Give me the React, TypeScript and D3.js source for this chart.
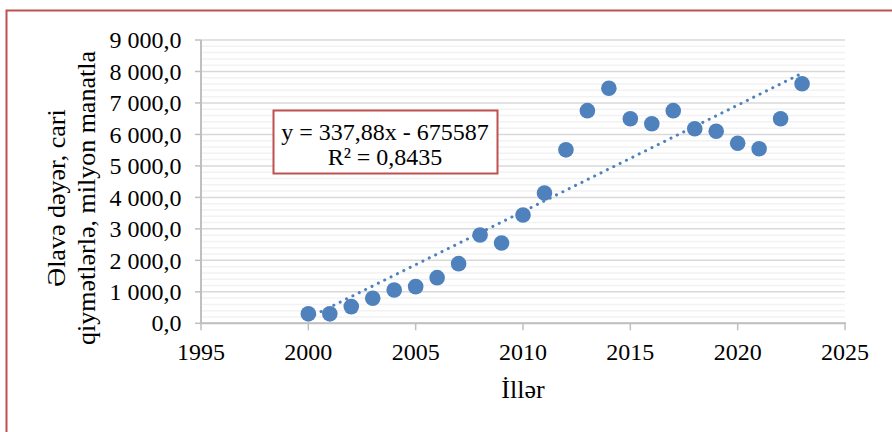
import React, { useEffect } from "react";
import * as d3 from "d3";

const years = [2000, 2001, 2002, 2003, 2004, 2005, 2006, 2007, 2008, 2009, 2010, 2011, 2012, 2013, 2014, 2015, 2016, 2017, 2018, 2019, 2020, 2021, 2022, 2023];
const values = [300, 300, 530, 795, 1060, 1165, 1450, 1895, 2805, 2550, 3440, 4140, 5510, 6755, 7465, 6500, 6340, 6755, 6180, 6100, 5720, 5545, 6500, 7610];
const yTicks = [0, 1000, 2000, 3000, 4000, 5000, 6000, 7000, 8000, 9000];
const xTicks = [1995, 2000, 2005, 2010, 2015, 2020, 2025];
const trendSlope = 337.88;
const trendIntercept = -675587;
const equationLines = ["y = 337,88x - 675587", "R² = 0,8435"];
const yTitleLines = ["Əlavə dəyər, cari", "qiymətlərlə, milyon manatla"];
const xTitle = "İllər";

const W = 892;
const H = 432;
const FONT = '"Liberation Serif", "Noto Serif", "DejaVu Serif", serif';

const fmt = (v: number) => {
  const s = v.toFixed(1).replace(".", ",");
  const [ip, dp] = s.split(",");
  const withSpace = ip.replace(/\B(?=(\d{3})+(?!\d))/g, " ");
  return withSpace + "," + dp;
};

export default function App() {
  useEffect(() => {
    document.body.style.margin = "0";
  }, []);

  const x = d3.scaleLinear().domain([1995, 2025]).range([201, 845]);
  const y = d3.scaleLinear().domain([0, 9000]).range([323.3, 40]);
  const minor = d3.range(0, 9000, 200).filter((v) => v % 1000 !== 0);

  const trendX = [d3.min(years)!, d3.max(years)!];
  const trendLine = d3
    .line<number>()
    .x((d) => x(d))
    .y((d) => y(trendSlope * d + trendIntercept));

  const ts = { fontFamily: FONT };

  return (
    <svg width={W} height={H} style={{ position: "absolute", left: 0, top: 0, background: "#fff", fontFamily: FONT }}>
      <rect x={0} y={0} width={W} height={H} fill="#fff" />
      <rect x={6.5} y={10.5} width={1000} height={1000} fill="none" stroke="#c0504d" strokeWidth={2} />
      {minor.map((v) => (
        <line key={"m" + v} x1={x(1995)} x2={x(2025)} y1={y(v)} y2={y(v)} stroke="#f2f2f2" strokeWidth={1.5} />
      ))}
      {yTicks.map((v) => (
        <line key={"g" + v} x1={x(1995)} x2={x(2025)} y1={y(v)} y2={y(v)} stroke="#d9d9d9" strokeWidth={1.5} />
      ))}
      <line x1={x(1995)} x2={x(1995)} y1={y(0)} y2={y(9000)} stroke="#bfbfbf" strokeWidth={2} />
      <line x1={x(1995) - 1} x2={x(2025) + 1} y1={y(0)} y2={y(0)} stroke="#bfbfbf" strokeWidth={2} />
      {yTicks.map((v) => (
        <line key={"yt" + v} x1={x(1995) - 6} x2={x(1995)} y1={y(v)} y2={y(v)} stroke="#bfbfbf" strokeWidth={1.5} />
      ))}
      {xTicks.map((v) => (
        <line key={"xt" + v} x1={x(v)} x2={x(v)} y1={y(0)} y2={y(0) + 7} stroke="#bfbfbf" strokeWidth={1.5} />
      ))}
      {yTicks.map((v) => (
        <text key={"yl" + v} x={181.5} y={y(v)} dy="0.34em" textAnchor="end" fontSize={24} fill="#000" style={ts}>
          {fmt(v)}
        </text>
      ))}
      {xTicks.map((v) => (
        <text key={"xl" + v} x={x(v)} y={360} textAnchor="middle" fontSize={24} fill="#000" style={ts}>
          {v}
        </text>
      ))}
      <text x={523} y={398} textAnchor="middle" fontSize={26} fill="#000" style={ts}>
        {xTitle}
      </text>
      <g transform="translate(0,198) rotate(-90)">
        {yTitleLines.map((t, i) => (
          <text key={t} x={0} y={65 + i * 30} textAnchor="middle" fontSize={26} fill="#000" style={ts}>
            {t}
          </text>
        ))}
      </g>
      {years.map((yr, i) => (
        <circle key={yr} cx={x(yr)} cy={y(values[i])} r={7.8} fill="#4f81bd" />
      ))}
      <path
        d={trendLine(trendX) || ""}
        fill="none"
        stroke="#4f81bd"
        strokeWidth={3}
        strokeDasharray="0.1 7"
        strokeLinecap="round"
      />
      <rect x={273.5} y={110.5} width={224} height={63} fill="#fff" stroke="#c0504d" strokeWidth={2} />
      {equationLines.map((t, i) => (
        <text key={t} x={385} y={140 + i * 24.5} textAnchor="middle" fontSize={24} fill="#000" style={ts}>
          {t}
        </text>
      ))}
    </svg>
  );
}
